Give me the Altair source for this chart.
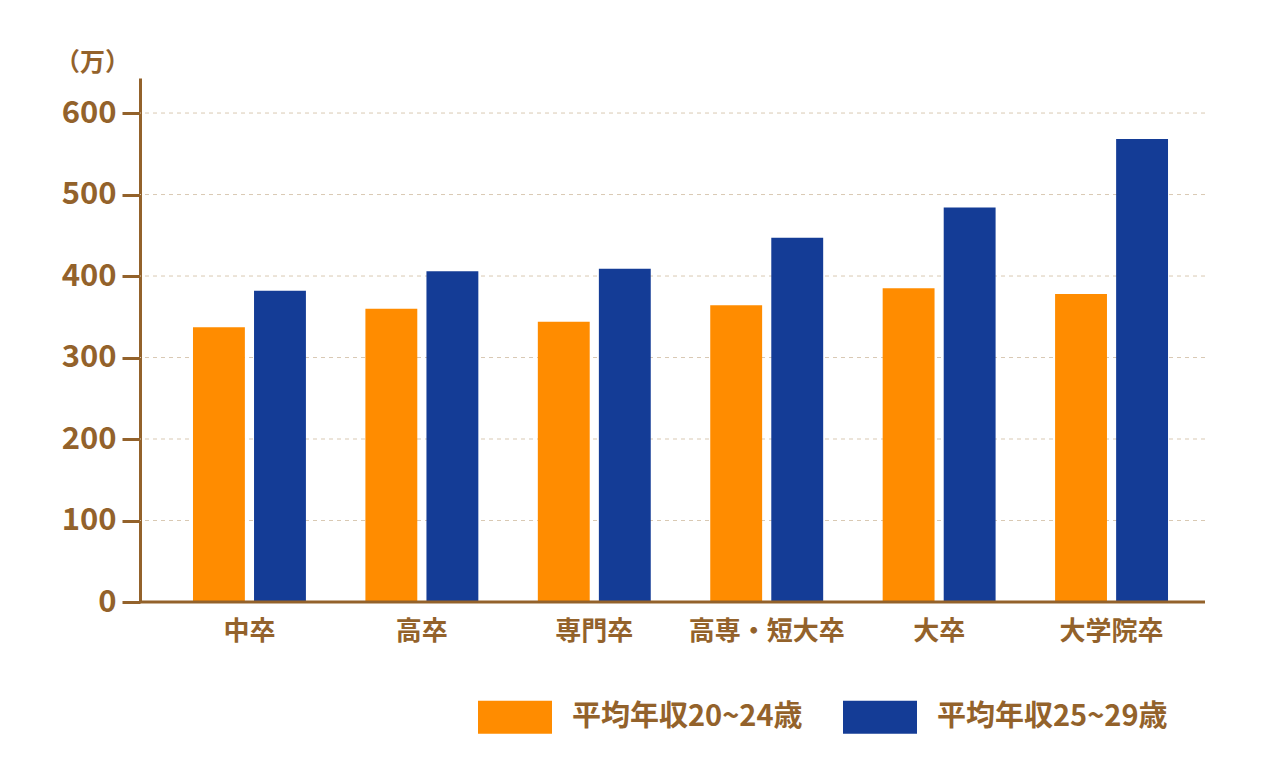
import altair as alt
import pandas as pd

# 学歴別の平均年収（万円）
categories = ["中卒", "高卒", "専門卒", "高専・短大卒", "大卒", "大学院卒"]
series = ["平均年収20~24歳", "平均年収25~29歳"]
income_20_24 = [337, 360, 344, 364, 385, 378]
income_25_29 = [382, 406, 409, 447, 484, 568]
colors = ["#FF8C00", "#143C96"]
y_ticks = [0, 100, 200, 300, 400, 500, 600]

brown = "#93622B"
font = "Noto Sans CJK JP"

rows = []
for cat, a, b in zip(categories, income_20_24, income_25_29):
    rows.append({"学歴": cat, "区分": series[0], "年収": a})
    rows.append({"学歴": cat, "区分": series[1], "年収": b})
df = pd.DataFrame(rows)

y_scale = alt.Scale(domain=[0, 643], nice=False)
y_axis = alt.Axis(values=y_ticks, labelFontSize=31, labelFont=font,
                  labelFontWeight="bold", labelColor=brown, labelPadding=6,
                  tickSize=18, tickWidth=3, tickColor=brown,
                  domainColor=brown, domainWidth=3, grid=False,
                  titleAngle=0, titleX=-48, titleY=-16, titleAlign="center",
                  titleBaseline="middle", titleFontSize=25, titleFont=font,
                  titleFontWeight="bold", titleColor=brown)

bars = alt.Chart(df).mark_bar().encode(
    x=alt.X("学歴:N", sort=categories, title=None,
            # bands start a bit right of the y axis, like the original
            scale=alt.Scale(paddingInner=0.345, paddingOuter=0.2145, range=[16, 1065]),
            axis=alt.Axis(labelAngle=0, ticks=False, domain=False, labelFontSize=26,
                          labelPadding=16, labelColor=brown, labelFontWeight="bold",
                          labelFont=font)),
    xOffset=alt.XOffset("区分:N", sort=series,
                        scale=alt.Scale(paddingInner=0.15, paddingOuter=0)),
    y=alt.Y("年収:Q", title="（万）", scale=y_scale, axis=y_axis),
    color=alt.Color("区分:N", sort=series,
                    scale=alt.Scale(domain=series, range=colors),
                    legend=alt.Legend(title=None, orient="none", legendX=338, legendY=602,
                                      direction="horizontal", columns=2,
                                      symbolType="M-1,-0.446H1V0.446H-1Z",
                                      symbolSize=5476, symbolStrokeWidth=0,
                                      symbolOpacity=1,
                                      labelFontSize=29, labelFont=font,
                                      labelFontWeight="bold", labelColor=brown,
                                      labelOffset=20, columnPadding=40, padding=0,
                                      labelLimit=400)),
)

# dashed grid lines across the whole plot
grid = alt.Chart(pd.DataFrame({"v": y_ticks[1:]})).mark_rule(
    color="#D9C9B3", strokeDash=[4, 4], strokeWidth=1
).encode(y=alt.Y("v:Q", title="（万）", scale=y_scale, axis=y_axis))

# x baseline
base = alt.Chart(pd.DataFrame({"v": [0]})).mark_rule(
    color=brown, strokeWidth=3
).encode(y=alt.Y("v:Q", title="（万）", scale=y_scale, axis=y_axis))

chart = alt.layer(grid, bars, base).properties(
    width=1065,
    height=524,
    autosize=alt.AutoSizeParams(type="none"),
    padding={"left": 132, "top": 70, "right": 67, "bottom": 165},
).configure_view(
    stroke=None
)

chart.save("out.html", embed_options={"renderer": "svg", "actions": False})
